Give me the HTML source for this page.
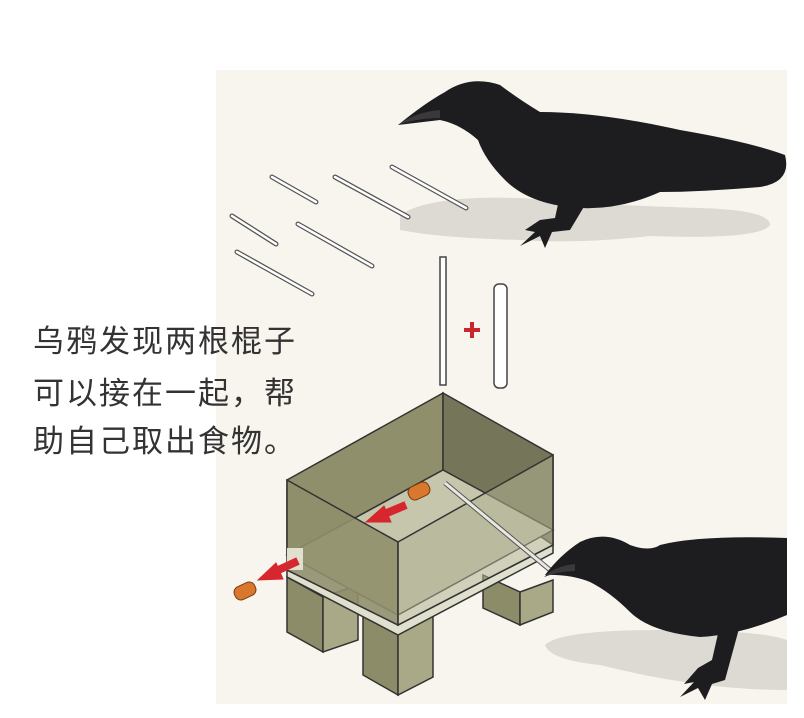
<!DOCTYPE html>
<html><head><meta charset="utf-8"><style>
html,body{margin:0;padding:0;background:#fff;width:804px;height:718px;overflow:hidden}
.t{position:absolute;left:33px;font:31px "Liberation Sans","Noto Sans CJK SC",sans-serif;color:#333;letter-spacing:2px;white-space:nowrap}
</style></head><body>
<svg width="804" height="718" style="position:absolute;left:0;top:0">
<rect x="216" y="70" width="571" height="634" fill="#f8f5ee"/>
<path d="M400 215 Q430 195 520 198 Q600 205 700 208 Q770 210 770 225 Q760 240 650 236 Q580 244 520 240 Q440 238 400 230Z" fill="#dcdad3"/>
<path d="M545 645 Q560 630 660 630 Q760 630 787 640 L787 690 Q700 690 600 665 Q550 660 545 645Z" fill="#dcdad3"/>
<g stroke="#555" stroke-width="5" stroke-linecap="round"><line x1="272" y1="177" x2="316" y2="202"/><line x1="335" y1="177" x2="408" y2="217"/><line x1="392" y1="167" x2="466" y2="208"/><line x1="232" y1="216" x2="276" y2="244"/><line x1="298" y1="224" x2="372" y2="266"/><line x1="237" y1="252" x2="312" y2="294"/></g>
<g stroke="#fff" stroke-width="2.5" stroke-linecap="round"><line x1="272" y1="177" x2="316" y2="202"/><line x1="335" y1="177" x2="408" y2="217"/><line x1="392" y1="167" x2="466" y2="208"/><line x1="232" y1="216" x2="276" y2="244"/><line x1="298" y1="224" x2="372" y2="266"/><line x1="237" y1="252" x2="312" y2="294"/></g>
<rect x="440" y="257" width="6" height="128" fill="#fff" stroke="#444" stroke-width="1.5"/>
<rect x="494" y="284" width="13" height="104" rx="5" fill="#fff" stroke="#444" stroke-width="1.5"/>
<path d="M464 330h16M472 322v16" stroke="#c8282d" stroke-width="4"/>
<g stroke="#333" stroke-width="1.5">
<polygon points="287,577 323,597 323,652 287,632" fill="#8c8c68"/><polygon points="323,597 358,585 358,640 323,652" fill="#a9a987"/>
<polygon points="483,575 520,592 520,625 483,608" fill="#8c8c68"/><polygon points="520,592 553,580 553,612 520,625" fill="#a9a987"/>
<polygon points="363,610 398,630 398,695 363,675" fill="#8c8c68"/><polygon points="398,630 433,614 433,677 398,695" fill="#a9a987"/>
<polygon points="287,570 398,625 553,545 553,553 398,635 287,577" fill="#e0e0cf"/>
<polygon points="287,480 443,393 443,470 287,555" fill="#8f8f6c"/>
<polygon points="443,393 553,455 553,545 443,470" fill="#75755a"/>
<polygon points="287,555 443,470 553,530 398,615" fill="#c6c6ad"/>
<polygon points="287,480 398,542 398,625 287,570" fill="#8f8f6c" fill-opacity=".9"/>
<polygon points="398,542 553,455 553,545 398,625" fill="#b0b091" fill-opacity=".55"/>
</g>
<rect x="287" y="548" width="16" height="22" fill="#e0e0cf"/>
<line x1="445" y1="483" x2="550" y2="570" stroke="#555" stroke-width="5"/>
<line x1="445" y1="483" x2="550" y2="570" stroke="#e8e8e0" stroke-width="3"/>
<g stroke="#7a3a10" stroke-width="1"><rect x="408" y="484" width="22" height="14" rx="6" fill="#d9772e" transform="rotate(-25 419 491)"/><rect x="234" y="584" width="22" height="14" rx="6" fill="#d9772e" transform="rotate(-25 245 591)"/></g>
<g fill="#d6262e" stroke="#d6262e">
<line x1="406" y1="505" x2="382" y2="515" stroke-width="8"/><polygon points="366,522 384,506 391,522"/>
<line x1="298" y1="561" x2="274" y2="572" stroke-width="8"/><polygon points="258,580 276,563 283,579"/>
</g>
<g fill="#1d1c1f">
<path d="M398 125 Q425 103 445 92 Q470 75 500 85 Q520 100 540 112 Q600 112 680 130 Q750 142 785 155 Q792 182 760 187 Q700 192 660 192 Q620 210 580 208 Q530 205 505 180 Q485 160 478 140 Q460 124 440 120 Z"/>
<path d="M560 195 L555 218 L540 220 L525 230 L535 232 L520 246 L540 236 L545 248 L552 232 L570 230 L585 205Z"/>
</g>
<path d="M398 125 Q415 112 440 110 L440 118 Q418 118 398 125Z" fill="#3a3838"/>
<g fill="#1d1c1f">
<path d="M545 575 Q560 555 580 542 Q605 530 630 545 Q650 552 660 545 Q700 535 787 538 L787 615 Q740 635 700 637 Q650 632 630 612 Q610 592 590 582 Q570 574 545 575Z"/>
<path d="M720 625 L712 660 L698 668 L684 684 L694 682 L680 697 L698 688 L705 700 L712 684 L725 680 L740 625Z"/>
</g>
<path d="M544 577 Q555 566 575 564 L575 571 Q560 571 544 577Z" fill="#3a3838"/>
</svg>
<div class="t" style="top:316px">乌鸦发现两根棍子</div>
<div class="t" style="top:368px">可以接在一起，帮</div>
<div class="t" style="top:416px">助自己取出食物。</div>
</body></html>
